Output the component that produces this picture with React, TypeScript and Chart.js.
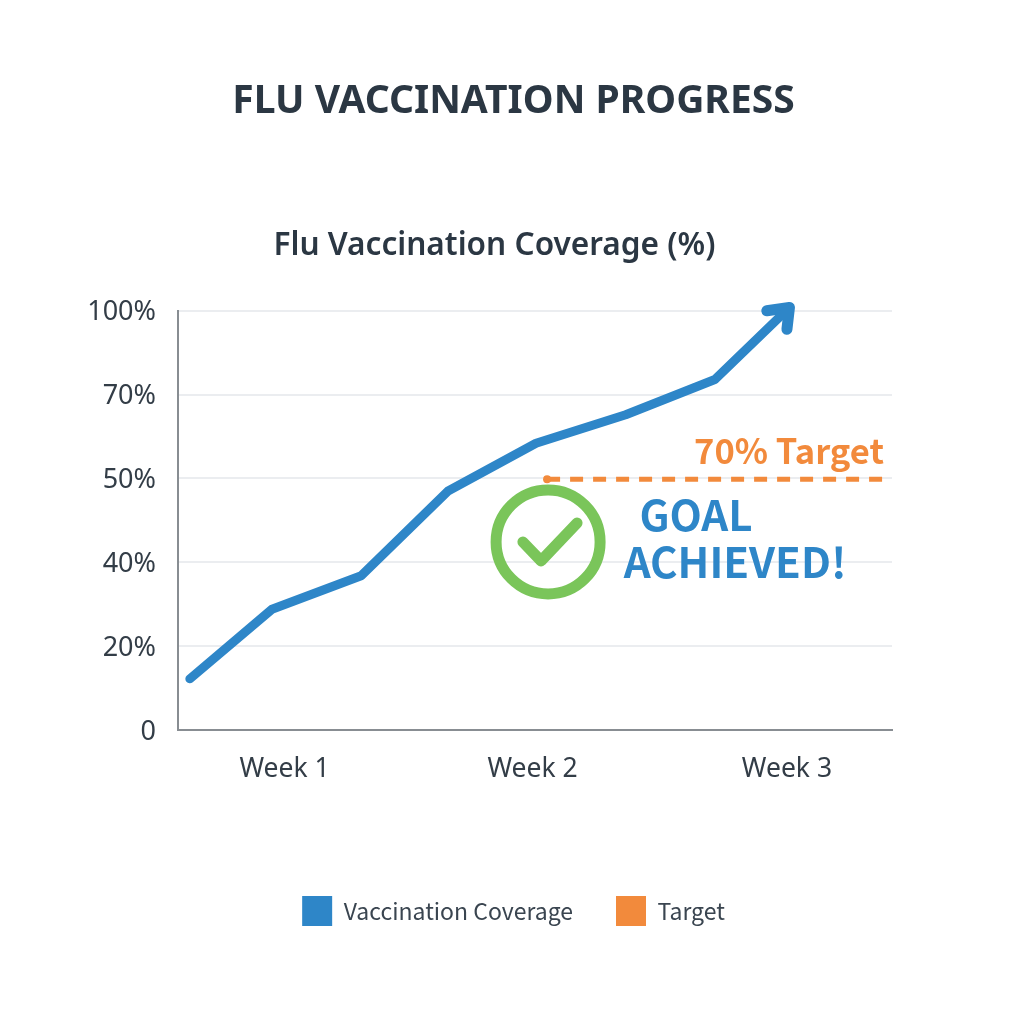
import React, { useEffect, useRef } from "react";
import { Chart, registerables } from "chart.js";

Chart.register(...registerables);

const pageTitle = "FLU VACCINATION PROGRESS";
const chartTitle = "Flu Vaccination Coverage (%)";
const yTickLabels = ["0", "20%", "40%", "50%", "70%", "100%"];
const weekLabels = ["Week 1", "Week 2", "Week 3"];
const weekTicks = [1.006, 1.99, 3];
const legendNames = ["Vaccination Coverage", "Target"];

// x is measured in weeks; y in evenly spaced tick steps of the printed axis
const coverageX = [0.63, 0.956, 1.31, 1.655, 2.004, 2.36, 2.714, 3.01];
const coverageY = [0.61, 1.44, 1.84, 2.85, 3.42, 3.76, 4.18, 5.04];
const arrowHeadX = [2.92, 3.01, 3.0];
const arrowHeadY = [5.0, 5.04, 4.78];
const targetX = [2.048, 3.385];
const targetY = [2.99, 2.99];
const badgeX = [2.052];
const badgeY = [2.243];
const checkX = [1.952, 2.024, 2.167];
const checkY = [2.243, 2.017, 2.47];

const BLUE = "#2e86c8";
const ORANGE = "#f28a3c";
const GREEN = "#7ac55a";
const INK = "#2b3743";
const SANS = '"Noto Sans", sans-serif';
const CJK = '"Noto Sans CJK SC", "Noto Sans", sans-serif';

const toPoints = (xs: number[], ys: number[]) => xs.map((x, i) => ({ x, y: ys[i] }));

const notes = [
  { text: chartTitle, x: 1.839, y: 5.77, font: `600 31.6px ${SANS}`, color: INK, align: "center" },
  { text: "70% Target", x: 3.385, y: 3.33, font: `600 34.5px ${CJK}`, color: ORANGE, align: "right" },
  { text: "GOAL", x: 2.639, y: 2.566, font: `600 42px ${CJK}`, color: BLUE, align: "center" },
  { text: "ACHIEVED!", x: 2.794, y: 2.005, font: `600 42px ${CJK}`, color: BLUE, align: "center" },
];

const notesPlugin = {
  id: "notes",
  afterDraw(chart: any) {
    const { ctx, scales } = chart;
    ctx.save();
    ctx.textBaseline = "middle";
    for (const n of notes) {
      ctx.font = n.font;
      ctx.fillStyle = n.color;
      ctx.textAlign = n.align;
      ctx.fillText(n.text, scales.x.getPixelForValue(n.x), scales.y.getPixelForValue(n.y));
    }
    ctx.restore();
  },
};

export default function App() {
  const ref = useRef<HTMLCanvasElement>(null);
  useEffect(() => {
    const chart = new Chart(ref.current!, {
      type: "line",
      data: {
        datasets: [
          {
            label: legendNames[0],
            data: toPoints(coverageX, coverageY),
            borderColor: BLUE,
            backgroundColor: BLUE,
            borderWidth: 9,
            pointRadius: 0,
            borderCapStyle: "round",
            borderJoinStyle: "round",
            tension: 0,
            clip: false,
          },
          {
            label: "arrow",
            data: toPoints(arrowHeadX, arrowHeadY),
            borderColor: BLUE,
            borderWidth: 11,
            pointRadius: 0,
            borderCapStyle: "round",
            borderJoinStyle: "round",
            clip: false,
          },
          {
            label: legendNames[1],
            data: toPoints(targetX, targetY),
            borderColor: ORANGE,
            backgroundColor: ORANGE,
            borderWidth: 5,
            borderDash: [13, 10],
            pointRadius: [4, 0],
            pointBackgroundColor: ORANGE,
            pointBorderWidth: 0,
          },
          {
            label: "badge",
            data: toPoints(badgeX, badgeY),
            showLine: false,
            pointRadius: 52,
            pointBorderWidth: 11,
            pointBorderColor: GREEN,
            pointBackgroundColor: "rgba(255,255,255,0)",
          },
          {
            label: "check",
            data: toPoints(checkX, checkY),
            borderColor: GREEN,
            borderWidth: 11,
            pointRadius: 0,
            borderCapStyle: "round",
            borderJoinStyle: "round",
          },
        ],
      },
      options: {
        responsive: false,
        animation: false,
        devicePixelRatio: 1,
        layout: { padding: { left: 3, right: 0, top: 0, bottom: 88 } },
        scales: {
          x: {
            type: "linear",
            min: 0.583,
            max: 3.417,
            afterBuildTicks: (axis: any) => {
              axis.ticks = weekTicks.map((value) => ({ value }));
            },
            afterFit: (axis: any) => {
              axis.height = 123;
            },
            grid: { display: false },
            border: { display: true, color: "#888d92", width: 2 },
            ticks: {
              autoSkip: false,
              maxRotation: 0,
              padding: 16,
              color: "#333d47",
              font: { family: SANS, size: 26.5 },
              callback: (value: any) => weekLabels[weekTicks.indexOf(value)],
            },
          },
          y: {
            type: "linear",
            min: 0,
            max: 5,
            afterFit: (axis: any) => {
              axis.width = 175;
            },
            grid: { color: "#ebedf0", lineWidth: 2, drawTicks: false },
            border: { display: true, color: "#888d92", width: 2 },
            ticks: {
              stepSize: 1,
              padding: 22,
              labelOffset: 2,
              color: "#333d47",
              font: { family: SANS, size: 27 },
              callback: (value: any) => yTickLabels[value],
            },
          },
          right: {
            type: "linear",
            position: "right",
            afterFit: (axis: any) => {
              axis.width = 132;
            },
            grid: { drawOnChartArea: false, drawTicks: false },
            border: { display: false },
            ticks: { display: false },
          },
        },
        plugins: {
          title: {
            display: true,
            text: pageTitle,
            color: INK,
            font: { family: SANS, size: 39, weight: "700" },
            padding: { top: 78, bottom: 186 },
          },
          legend: {
            position: "bottom",
            labels: {
              boxWidth: 30,
              boxHeight: 30,
              padding: 43,
              color: "#3a4550",
              font: { family: CJK, size: 23 },
              generateLabels: () =>
                legendNames.map((text, i) => ({
                  text,
                  fillStyle: i === 0 ? BLUE : ORANGE,
                  strokeStyle: "rgba(0,0,0,0)",
                  lineWidth: 0,
                  fontColor: "#3a4550",
                  datasetIndex: i === 0 ? 0 : 2,
                })),
            },
          },
          tooltip: { enabled: false },
        },
      },
      plugins: [notesPlugin],
    } as any);
    return () => chart.destroy();
  }, []);
  return (
    <canvas
      ref={ref}
      width={1024}
      height={1024}
      style={{ position: "absolute", left: 0, top: 0, width: 1024, height: 1024 }}
    />
  );
}
